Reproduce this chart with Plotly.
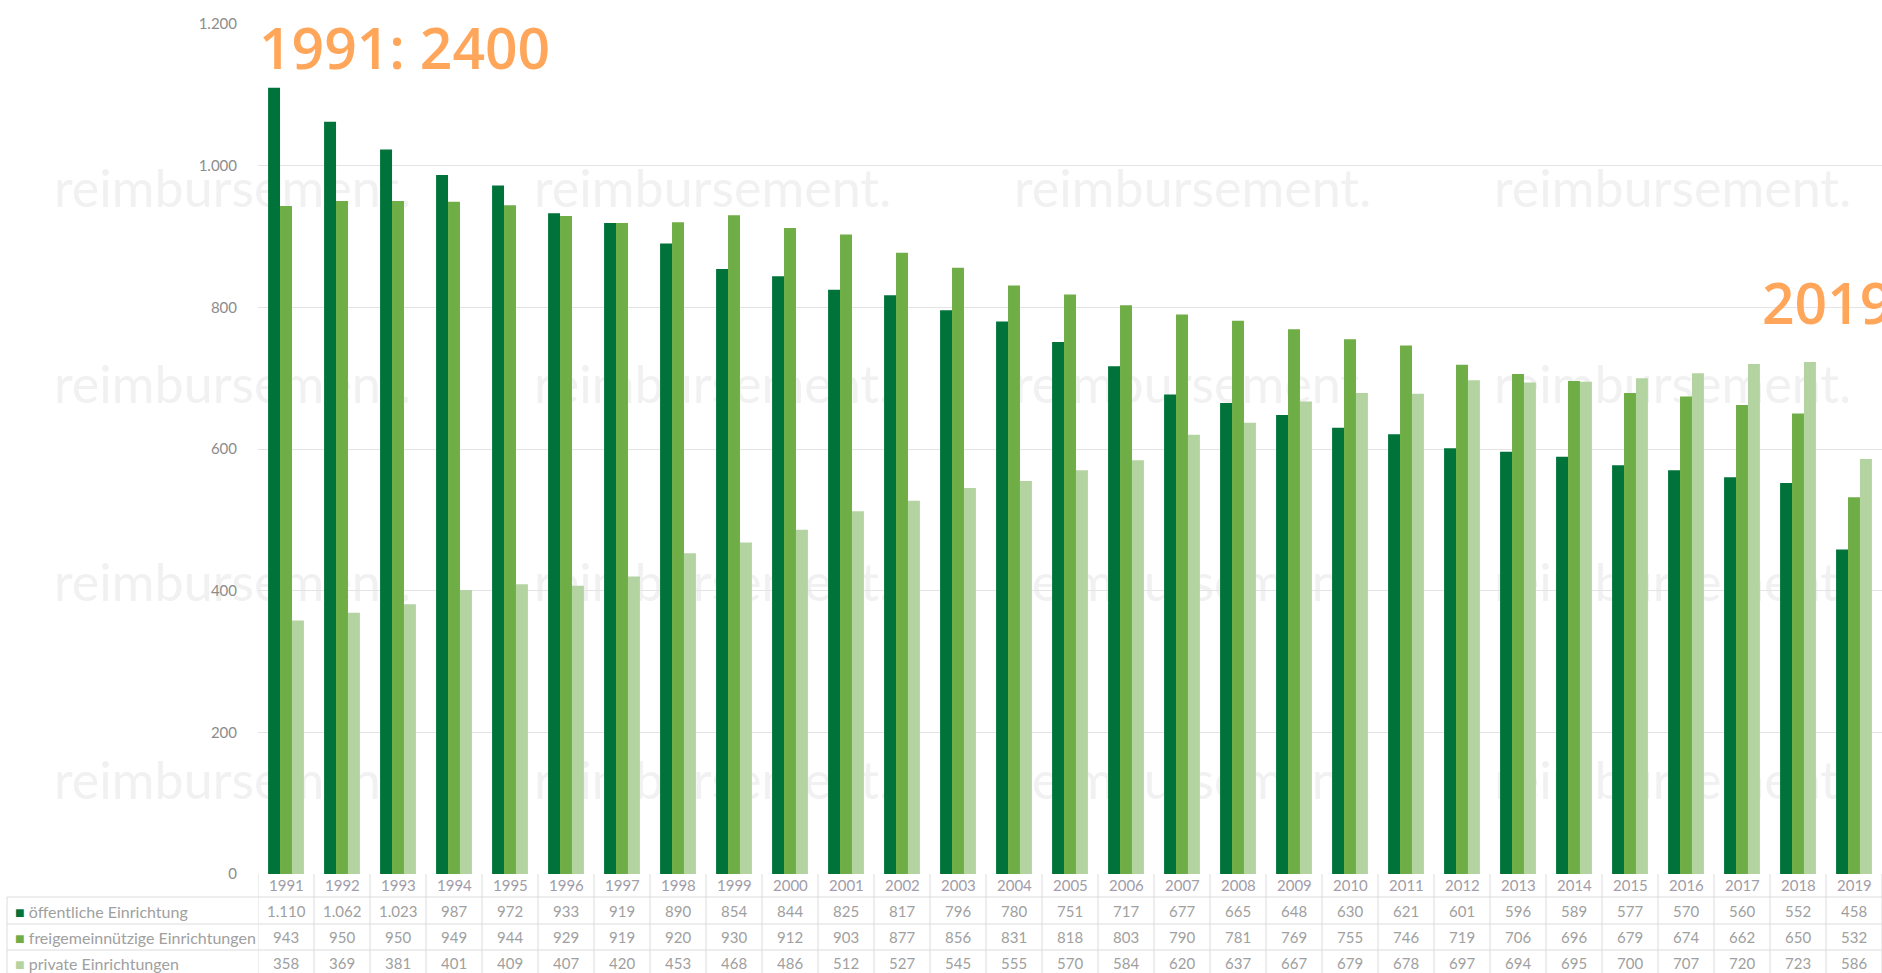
import plotly.graph_objects as go

# ---------------- data ----------------
years = ["1991", "1992", "1993", "1994", "1995", "1996", "1997", "1998", "1999", "2000",
         "2001", "2002", "2003", "2004", "2005", "2006", "2007", "2008", "2009", "2010",
         "2011", "2012", "2013", "2014", "2015", "2016", "2017", "2018", "2019"]
oeffentlich = [1110, 1062, 1023, 987, 972, 933, 919, 890, 854, 844, 825, 817, 796, 780, 751,
               717, 677, 665, 648, 630, 621, 601, 596, 589, 577, 570, 560, 552, 458]
freigemeinnuetzig = [943, 950, 950, 949, 944, 929, 919, 920, 930, 912, 903, 877, 856, 831, 818,
                     803, 790, 781, 769, 755, 746, 719, 706, 696, 679, 674, 662, 650, 532]
privat = [358, 369, 381, 401, 409, 407, 420, 453, 468, 486, 512, 527, 545, 555, 570, 584,
          620, 637, 667, 679, 678, 697, 694, 695, 700, 707, 720, 723, 586]
series_names = ["öffentliche Einrichtung", "freigemeinnützige Einrichtungen", "private Einrichtungen"]
series_colors = ["#00733A", "#6FAD46", "#B3D4A0"]
callouts = ["1991: 2400", "2019: 1600"]
watermark = "reimbursement."

# ---------------- geometry (pixels) ----------------
W, H = 1882, 973
ML, MR, MT, MB = 258, 0, 24, 99
PW, PH = W - ML - MR, H - MT - MB


def px(p):
    return (p - ML) / PW


def py(p):
    return (H - MB - p) / PH


def fmt(v):
    return f"{v:,}".replace(",", ".")


fig = go.Figure()
for name, vals, col in zip(series_names, [oeffentlich, freigemeinnuetzig, privat], series_colors):
    fig.add_trace(go.Bar(x=years, y=vals, name=name, marker=dict(color=col, line=dict(width=0))))

shapes = []
annotations = []

# watermark (below traces)
for yc in [186, 382, 580, 778]:
    for xs in [48, 528, 1008, 1488]:
        shapes.append(dict(type="rect", xref="paper", yref="paper", layer="below",
                           x0=px(xs), x1=px(xs + 420), y0=py(yc + 30), y1=py(yc - 30),
                           line=dict(width=0), fillcolor="rgba(0,0,0,0)",
                           label=dict(text=watermark, textposition="middle left",
                                      font=dict(family="Lato", size=52, color="#f1f1f1"))))

# table grid
grid_col = "#dcdcdc"
row_lines = [897, 924, 950]
for p in row_lines:
    shapes.append(dict(type="line", xref="paper", yref="paper", x0=px(7), x1=1,
                       y0=py(p), y1=py(p), line=dict(color=grid_col, width=1)))
shapes.append(dict(type="line", xref="paper", yref="paper", x0=px(7), x1=px(7),
                   y0=py(897), y1=py(H), line=dict(color=grid_col, width=1)))
for i in range(len(years) + 1):
    shapes.append(dict(type="line", xref="x", yref="paper", x0=i - 0.5, x1=i - 0.5,
                       y0=0, y1=py(H), line=dict(color=grid_col, width=1)))

# table rows
row_centers = [911, 937, 963]
for rc, name, col, vals in zip(row_centers, series_names, series_colors,
                               [oeffentlich, freigemeinnuetzig, privat]):
    annotations.append(dict(xref="paper", yref="paper", x=px(13), y=py(rc),
                            xanchor="left", yanchor="middle", showarrow=False,
                            text=f"<span style='color:{col}'>■</span> {name}",
                            font=dict(family="Lato", size=16, color="#a0a0a0")))
    for i, v in enumerate(vals):
        annotations.append(dict(xref="x", yref="paper", x=i, y=py(rc),
                                xanchor="center", yanchor="middle", showarrow=False,
                                text=fmt(v), font=dict(family="Lato", size=15, color="#a0a0a0")))

# year row
for i, yr in enumerate(years):
    annotations.append(dict(xref="x", yref="paper", x=i, y=py(885),
                            xanchor="center", yanchor="middle", showarrow=False,
                            text=yr, font=dict(family="Lato", size=15, color="#a29ca8")))

# callouts
annotations.append(dict(xref="paper", yref="paper", x=px(257), y=py(47),
                        xanchor="left", yanchor="middle", showarrow=False,
                        text=callouts[0],
                        font=dict(family="Open Sans", size=57, color="#FFA65A", weight=600)))
annotations.append(dict(xref="paper", yref="paper", x=px(1760), y=py(302),
                        xanchor="left", yanchor="middle", showarrow=False,
                        text=callouts[1],
                        font=dict(family="Open Sans", size=57, color="#FFA65A", weight=600)))

fig.update_layout(
    width=W, height=H,
    margin=dict(l=ML, r=MR, t=MT, b=MB),
    barmode="group", bargap=0.36, bargroupgap=0,
    showlegend=False,
    separators=",.",
    paper_bgcolor="white", plot_bgcolor="rgba(0,0,0,0)",
    font=dict(family="Lato", color="#999999"),
    shapes=shapes, annotations=annotations,
    xaxis=dict(type="category", showticklabels=False, showgrid=False, zeroline=False,
               showline=False, range=[-0.5, len(years) - 0.5]),
    yaxis=dict(range=[0, 1200], dtick=200, tickformat=",d", gridcolor="#e4e4e4",
               gridwidth=1, zeroline=False, showline=False, ticklabelstandoff=20,
               tickfont=dict(family="Lato", size=15, color="#8c8c8c")),
)

fig.write_html("out.html", config={"displayModeBar": False},
               post_script="document.body.style.margin='0';document.body.style.overflow='hidden';")
